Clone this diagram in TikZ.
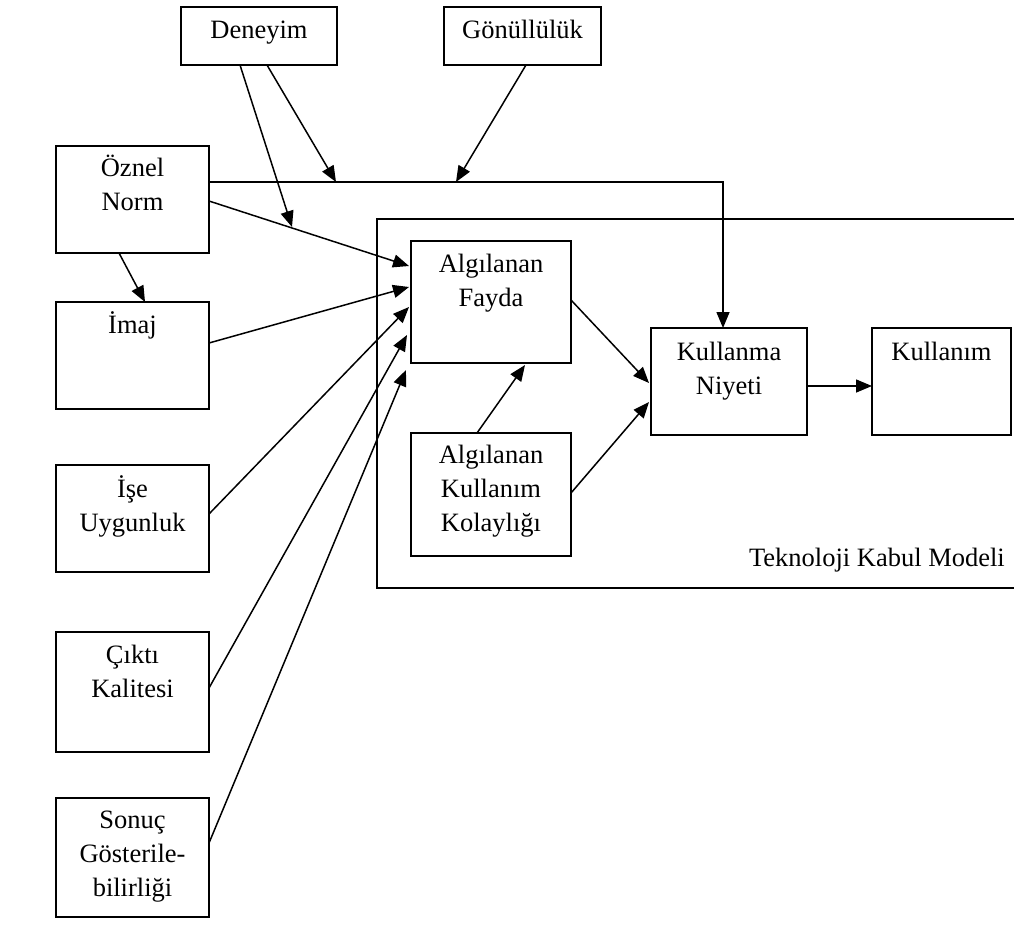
\documentclass[tikz,border=0pt]{standalone}
\usepackage{fontspec}
\setmainfont{Liberation Serif}
\usetikzlibrary{arrows.meta}
\begin{document}
\begin{tikzpicture}[x=1pt,y=-1pt,
  box/.style={draw, line width=1.6pt, inner sep=0pt, outer sep=0pt, anchor=north west},
  txt/.style={anchor=north, align=center, inner sep=0pt, font=\fontsize{26.5}{34}\selectfont},
  arr/.style={line width=1.5pt, -{Triangle[length=16pt,width=13pt]}},
  ln/.style={line width=1.6pt}]
\fill[white] (0,0) rectangle (1014,945);
\useasboundingbox (0,0) rectangle (1014,945);

% Technology acceptance model frame (open to the right)
\draw[ln] (1014,219) -- (377,219) -- (377,588) -- (1014,588);
\node[txt, anchor=base east] (tTKM) at (1005,566) {Teknoloji Kabul Modeli};

% Top moderators
\node[box, minimum width=156pt, minimum height=58pt] (DE) at (181,7) {};
\node[txt] (tDE) at ([yshift=-7pt]DE.north) {\strut Deneyim};
\node[box, minimum width=157pt, minimum height=58pt] (GO) at (444,7) {};
\node[txt] (tGO) at ([yshift=-7pt]GO.north) {\strut Gönüllülük};

% Left-hand determinants
\node[box, minimum width=153pt, minimum height=107pt] (ON) at (56,146) {};
\node[txt] (tON) at ([yshift=-6pt]ON.north) {\strut Öznel\\Norm};
\node[box, minimum width=153pt, minimum height=107pt] (IM) at (56,302) {};
\node[txt] (tIM) at ([yshift=-7pt]IM.north) {\strut İmaj};
\node[box, minimum width=153pt, minimum height=107pt] (IU) at (56,465) {};
\node[txt] (tIU) at ([yshift=-8pt]IU.north) {\strut İşe\\Uygunluk};
\node[box, minimum width=153pt, minimum height=120pt] (CK) at (56,632) {};
\node[txt] (tCK) at ([yshift=-7pt]CK.north) {\strut Çıktı\\Kalitesi};
\node[box, minimum width=153pt, minimum height=119pt] (SG) at (56,798) {};
\node[txt] (tSG) at ([yshift=-6pt]SG.north) {\strut Sonuç\\Gösterile-\\bilirliği};

% Core model
\node[box, minimum width=160pt, minimum height=122pt] (AF) at (411,241) {};
\node[txt] (tAF) at ([yshift=-7pt]AF.north) {\strut Algılanan\\Fayda};
\node[box, minimum width=160pt, minimum height=123pt] (AK) at (411,433) {};
\node[txt] (tAK) at ([yshift=-6pt]AK.north) {\strut Algılanan\\Kullanım\\Kolaylığı};
\node[box, minimum width=156pt, minimum height=107pt] (KN) at (651,328) {};
\node[txt] (tKN) at ([yshift=-8pt]KN.north) {\strut Kullanma\\Niyeti};
\node[box, minimum width=139pt, minimum height=107pt] (KU) at (872,328) {};
\node[txt] (tKU) at ([yshift=-8pt]KU.north) {\strut Kullanım};

% Points where the moderators meet the paths
\coordinate (m1) at (292,227);
\coordinate (m2) at (336,182);
\coordinate (m3) at (456,182);

% Subjective norm paths
\draw[arr] ([yshift=-36pt]ON.north east) -| ([xshift=72pt]KN.north west);
\draw[arr] ([yshift=-55pt]ON.north east) -- ([xshift=-2pt,yshift=-25pt]AF.north west);
\draw[arr] ([xshift=63pt]ON.south west) -- ([xshift=89pt]IM.north west);

% Moderator arrows
\draw[arr] ([xshift=59pt]DE.south west) -- (m1);
\draw[arr] ([xshift=86pt]DE.south west) -- (m2);
\draw[arr] ([xshift=82pt]GO.south west) -- (m3);

% Determinants of perceived usefulness
\draw[arr] ([yshift=-41pt]IM.north east) -- ([xshift=-2pt,yshift=-46pt]AF.north west);
\draw[arr] ([yshift=-49pt]IU.north east) -- ([xshift=-2pt,yshift=-66pt]AF.north west);
\draw[arr] ([yshift=-56pt]CK.north east) -- ([xshift=-4pt,yshift=-94pt]AF.north west);
\draw[arr] ([yshift=-45pt]SG.north east) -- ([xshift=-5pt,yshift=-7pt]AF.south west);

% Inside the model
\draw[arr] ([yshift=-59pt]AF.north east) -- ([xshift=-2pt,yshift=-55pt]KN.north west);
\draw[arr] ([xshift=66pt]AK.north west) -- ([xshift=114pt,yshift=-2pt]AF.south west);
\draw[arr] ([yshift=-60pt]AK.north east) -- ([xshift=-2pt,yshift=-74pt]KN.north west);
\draw[arr] ([yshift=-58pt]KN.north east) -- ([yshift=-58pt]KU.north west);
\end{tikzpicture}
\end{document}
